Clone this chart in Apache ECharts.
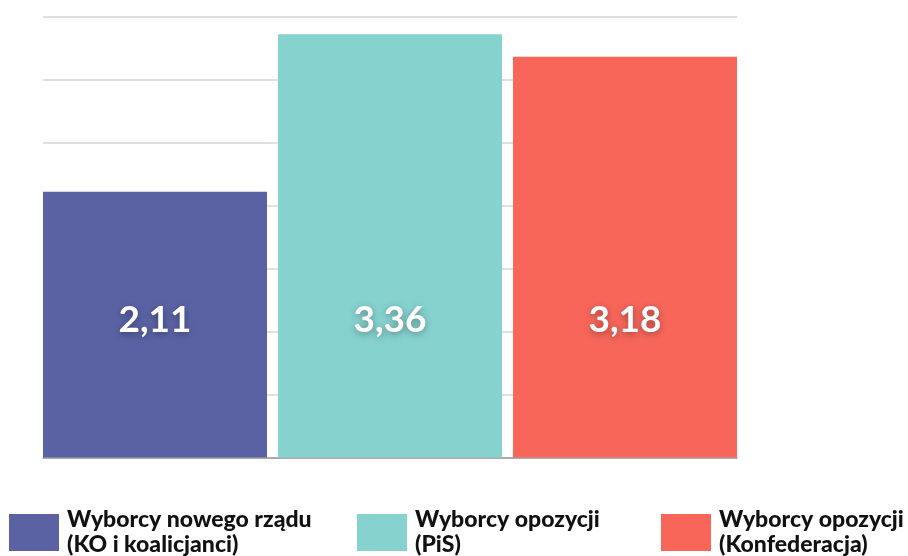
<!DOCTYPE html>
<html>
<head>
<meta charset="utf-8">
<script src="https://cdn.jsdelivr.net/npm/echarts@6/dist/echarts.min.js"></script>
<style>
  html, body { margin: 0; padding: 0; background: #fff; }
  #chart { width: 908px; height: 556px; }
</style>
</head>
<body>
<div id="chart"></div>
<script>
// Średnia ocena w trzech grupach wyborców
const groups = ['Wyborcy nowego rządu', 'Wyborcy opozycji', 'Wyborcy opozycji'];
const groupNotes = ['(KO i koalicjanci)', '(PiS)', '(Konfederacja)'];
const seriesNames = ['Wyborcy nowego rządu (KO i koalicjanci)', 'Wyborcy opozycji (PiS)', 'Wyborcy opozycji (Konfederacja)'];
const values = [2.11, 3.36, 3.18];
const colors = ['#5A62A4', '#86D2CF', '#F8665A'];
const axisMax = 3.5;
const axisStep = 0.5;

const FONT = 'Lato, "Noto Sans", sans-serif';
const chart = echarts.init(document.getElementById('chart'), null, { renderer: 'canvas' });

const fmt = v => v.toFixed(2).replace('.', ',');

// one series per group, stacked so each sits alone in its own slot
const series = values.map((v, i) => ({
  name: seriesNames[i],
  type: 'bar',
  xAxisIndex: 1,
  yAxisIndex: 1,
  stack: 'all',
  barWidth: 224,
  data: values.map((_, j) => (j === i ? v : '-')),
  itemStyle: { color: colors[i] },
  label: {
    show: true,
    position: 'insideBottom',
    distance: 119,
    formatter: p => fmt(p.value),
    color: '#fff',
    fontFamily: FONT,
    fontWeight: 'bold',
    fontSize: 37,
    textShadowColor: 'rgba(0,0,0,0.35)',
    textShadowBlur: 7,
    textShadowOffsetY: 2
  }
}));

const legendLefts = [9, 357, 661];
const legends = seriesNames.map((n, i) => ({
  data: [n],
  left: legendLefts[i],
  top: 500,
  padding: 0,
  orient: 'horizontal',
  icon: 'rect',
  itemWidth: 50,
  itemHeight: 37,
  selectedMode: false,
  formatter: () => groups[i] + '\n' + groupNotes[i],
  textStyle: {
    fontFamily: FONT,
    fontWeight: 900,
    fontSize: 23,
    lineHeight: 25,
    color: '#111',
    padding: [0, 0, 15, 3]
  }
}));

chart.setOption({
  animation: false,
  backgroundColor: '#fff',
  legend: legends,
  grid: [
    { left: 43, width: 694, top: 16.5, height: 441 },
    { left: 37.5, width: 705, top: 16.5, height: 441 }
  ],
  xAxis: [
    {
      gridIndex: 0, type: 'category', data: groups,
      axisLine: { show: true, lineStyle: { color: '#9a9a9a', width: 1.5 } },
      axisTick: { show: false }, axisLabel: { show: false }
    },
    {
      gridIndex: 1, type: 'category', data: groups,
      axisLine: { show: false }, axisTick: { show: false }, axisLabel: { show: false }
    }
  ],
  yAxis: [
    {
      gridIndex: 0, type: 'value', min: 0, max: axisMax, interval: axisStep,
      axisLine: { show: false }, axisTick: { show: false }, axisLabel: { show: false },
      splitLine: { lineStyle: { color: '#d4d4d4', width: 1.5 } }
    },
    {
      gridIndex: 1, type: 'value', min: 0, max: axisMax, interval: axisStep,
      axisLine: { show: false }, axisTick: { show: false }, axisLabel: { show: false },
      splitLine: { show: false }
    }
  ],
  series: series
});
</script>
</body>
</html>
